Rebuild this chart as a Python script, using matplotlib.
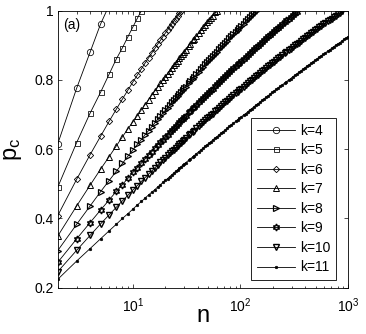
import numpy as np
import matplotlib
matplotlib.use("Agg")
import matplotlib.pyplot as plt
from matplotlib.ticker import NullFormatter, LogLocator

plt.rcParams['font.family'] = ['Liberation Sans', 'DejaVu Sans']
plt.rcParams['mathtext.fontset'] = 'custom'
plt.rcParams['mathtext.rm'] = 'Liberation Sans'
plt.rcParams['mathtext.it'] = 'Liberation Sans:italic'

# ---- data ----
n_values = [2, 3, 4, 5, 6, 7, 8, 9, 10, 11, 12, 13, 14, 15, 16, 17, 18, 19, 20, 21, 22, 23, 24, 25,
            26, 27, 28, 29, 30, 31, 33, 34, 36, 37, 39, 41, 43, 45, 47, 49, 51, 53, 55, 58, 60, 63,
            66, 69, 72, 75, 79, 82, 86, 90, 94, 98, 102, 107, 112, 117, 122, 127, 133, 139, 145,
            152, 159, 166, 173, 181, 189, 198, 206, 216, 225, 235, 246, 257, 268, 281, 293, 306,
            320, 334, 349, 365, 381, 398, 416, 435, 455, 475, 496, 518, 541, 566, 591, 617, 645,
            674, 704, 736, 769, 803, 839, 877, 916, 957, 1000]

pc_k4 = [0.615, 0.776, 0.880, 0.961, 1.015]
pc_k5 = [0.490, 0.619, 0.704, 0.764, 0.816, 0.860, 0.893, 0.925, 0.953, 0.978, 1.000]
pc_k6 = [0.408, 0.513, 0.584, 0.637, 0.680, 0.715, 0.745, 0.771, 0.794, 0.814, 0.832, 0.849,
         0.864, 0.878, 0.891, 0.903, 0.914, 0.925, 0.935, 0.944, 0.953, 0.962, 0.970, 0.977,
         0.985, 0.992, 0.998]
pc_k7 = [0.349, 0.436, 0.496, 0.542, 0.578, 0.609, 0.636, 0.659, 0.679, 0.697, 0.714, 0.729,
         0.743, 0.756, 0.768, 0.779, 0.790, 0.800, 0.809, 0.818, 0.826, 0.834, 0.842, 0.849,
         0.856, 0.863, 0.870, 0.876, 0.882, 0.887, 0.898, 0.904, 0.914, 0.918, 0.927, 0.936,
         0.944, 0.952, 0.959, 0.966, 0.973, 0.980, 0.986, 0.995, 0.999]
pc_k8 = [0.307, 0.383, 0.436, 0.477, 0.509, 0.536, 0.559, 0.580, 0.598, 0.614, 0.628, 0.642,
         0.654, 0.665, 0.676, 0.686, 0.695, 0.704, 0.712, 0.720, 0.727, 0.735, 0.741, 0.748,
         0.754, 0.760, 0.766, 0.771, 0.776, 0.781, 0.791, 0.796, 0.804, 0.809, 0.817, 0.824,
         0.831, 0.838, 0.845, 0.851, 0.857, 0.863, 0.868, 0.876, 0.881, 0.888, 0.895, 0.901,
         0.907, 0.913, 0.921, 0.926, 0.933, 0.939, 0.945, 0.951, 0.957, 0.963, 0.970, 0.976,
         0.981, 0.987, 0.993, 0.999]
pc_k9 = [0.273, 0.341, 0.388, 0.424, 0.453, 0.478, 0.498, 0.516, 0.533, 0.547, 0.560, 0.572,
         0.583, 0.593, 0.603, 0.612, 0.620, 0.628, 0.635, 0.642, 0.649, 0.655, 0.661, 0.667,
         0.673, 0.678, 0.683, 0.688, 0.693, 0.697, 0.706, 0.710, 0.718, 0.722, 0.729, 0.736,
         0.742, 0.749, 0.754, 0.760, 0.765, 0.771, 0.775, 0.783, 0.787, 0.793, 0.800, 0.805,
         0.811, 0.816, 0.823, 0.828, 0.834, 0.840, 0.845, 0.850, 0.855, 0.861, 0.867, 0.873,
         0.878, 0.883, 0.888, 0.894, 0.899, 0.905, 0.910, 0.915, 0.920, 0.926, 0.931, 0.936,
         0.941, 0.947, 0.951, 0.957, 0.962, 0.967, 0.972, 0.977, 0.982, 0.987, 0.992, 0.997]
pc_k10 = [0.246, 0.308, 0.351, 0.384, 0.410, 0.432, 0.451, 0.467, 0.482, 0.495, 0.507, 0.518,
          0.528, 0.537, 0.546, 0.554, 0.562, 0.569, 0.575, 0.582, 0.588, 0.594, 0.599, 0.604,
          0.609, 0.614, 0.619, 0.623, 0.628, 0.632, 0.640, 0.644, 0.651, 0.654, 0.661, 0.667,
          0.673, 0.678, 0.684, 0.689, 0.694, 0.698, 0.703, 0.709, 0.713, 0.719, 0.725, 0.730,
          0.735, 0.740, 0.746, 0.750, 0.756, 0.761, 0.766, 0.771, 0.775, 0.781, 0.786, 0.791,
          0.796, 0.800, 0.805, 0.810, 0.815, 0.820, 0.825, 0.830, 0.835, 0.839, 0.844, 0.849,
          0.853, 0.858, 0.863, 0.867, 0.872, 0.877, 0.881, 0.886, 0.890, 0.895, 0.900, 0.904,
          0.908, 0.913, 0.917, 0.922, 0.926, 0.931, 0.935, 0.939, 0.944, 0.948, 0.952, 0.956,
          0.961, 0.965, 0.969, 0.973, 0.977, 0.982, 0.986, 0.990, 0.994, 0.998]
pc_k11 = [0.224, 0.277, 0.313, 0.341, 0.364, 0.383, 0.400, 0.414, 0.427, 0.439, 0.449, 0.459,
          0.468, 0.476, 0.483, 0.491, 0.497, 0.504, 0.510, 0.515, 0.521, 0.526, 0.531, 0.536,
          0.540, 0.545, 0.549, 0.553, 0.557, 0.561, 0.568, 0.571, 0.578, 0.581, 0.587, 0.593,
          0.598, 0.603, 0.608, 0.613, 0.617, 0.621, 0.626, 0.632, 0.635, 0.641, 0.646, 0.651,
          0.655, 0.660, 0.666, 0.670, 0.675, 0.680, 0.685, 0.689, 0.693, 0.699, 0.703, 0.708,
          0.713, 0.717, 0.722, 0.727, 0.731, 0.736, 0.741, 0.745, 0.750, 0.754, 0.759, 0.764,
          0.768, 0.773, 0.777, 0.782, 0.786, 0.791, 0.795, 0.800, 0.804, 0.809, 0.813, 0.817,
          0.822, 0.826, 0.831, 0.835, 0.840, 0.844, 0.848, 0.853, 0.857, 0.861, 0.866, 0.870,
          0.874, 0.878, 0.883, 0.887, 0.891, 0.896, 0.900, 0.904, 0.908, 0.912, 0.917, 0.921,
          0.925]

k_values = [4, 5, 6, 7, 8, 9, 10, 11]
pc_series = [pc_k4, pc_k5, pc_k6, pc_k7, pc_k8, pc_k9, pc_k10, pc_k11]
legend_labels = ['k=%d' % k for k in k_values]
y_ticks = [0.2, 0.4, 0.6, 0.8, 1.0]
y_tick_labels = ['0.2', '0.4', '0.6', '0.8', '1']
x_ticks = [10, 100, 1000]
x_tick_labels = [r'$\mathregular{10^{1}}$', r'$\mathregular{10^{2}}$', r'$\mathregular{10^{3}}$']

# ---- styling ----
marker_styles = [dict(marker='o', ms=4.6, mew=0.55), dict(marker='s', ms=3.6, mew=0.55),
                 dict(marker='D', ms=3.2, mew=0.6), dict(marker='^', ms=4.4, mew=0.7),
                 dict(marker='>', ms=4.4, mew=0.9), dict(marker=(6, 1, 0), ms=5.0, mew=1.0),
                 dict(marker='v', ms=4.4, mew=1.0), dict(marker='.', ms=3.6, mew=0.5)]

fig = plt.figure(figsize=(3.66, 3.34), dpi=100)
ax = fig.add_axes([57.7 / 366, 1 - 287.7 / 334, 290.3 / 366, 277 / 334])
n_arr = np.array(n_values)
for k, pc, lab, st in zip(k_values, pc_series, legend_labels, marker_styles):
    y = np.array(pc)
    x = n_arr[:len(y)]
    mfc = 'k' if st['marker'] == '.' else 'none'
    visible = list(np.where(y <= 1.0015)[0])
    ax.plot(x, y, color='k', lw=0.6, mec='k', mfc=mfc, markevery=visible, label=lab, **st)

ax.set_xscale('log')
ax.set_xlim(2, 1000)
ax.set_ylim(0.2, 1)
ax.set_xticks(x_ticks)
ax.set_xticklabels(x_tick_labels)
ax.xaxis.set_minor_locator(LogLocator(base=10, subs=np.arange(2, 10)))
ax.xaxis.set_minor_formatter(NullFormatter())
ax.set_yticks(y_ticks)
ax.set_yticklabels(y_tick_labels)
ax.tick_params(which='both', direction='in', top=True, right=True, labelsize=10, width=0.5, color='k')
ax.tick_params(which='major', length=3)
ax.tick_params(which='minor', length=1.8)
ax.tick_params(axis='x', which='major', pad=6)
ax.tick_params(axis='y', which='major', pad=3)
for s in ax.spines.values():
    s.set_linewidth(0.6)

ax.set_xlabel('n', fontsize=17)
ax.xaxis.label.set_va('baseline')
ax.xaxis.set_label_coords(0.5, -0.124)
ax.set_ylabel(r'$\mathregular{p_c}$', fontsize=17)
ax.yaxis.set_label_coords(-0.115, 0.5)
ax.text(0.018, 0.934, '(a)', transform=ax.transAxes, fontsize=10, va='baseline', ha='left')

leg = ax.legend(loc='lower right', bbox_to_anchor=(0.9597, 0.0278), fontsize=10, frameon=True,
                fancybox=False, edgecolor='k', framealpha=1, handlelength=2.75, labelspacing=0.4,
                borderpad=0.4, handletextpad=0.4, borderaxespad=0)
leg.get_frame().set_linewidth(0.6)
fig.savefig("out.png", dpi=100)
